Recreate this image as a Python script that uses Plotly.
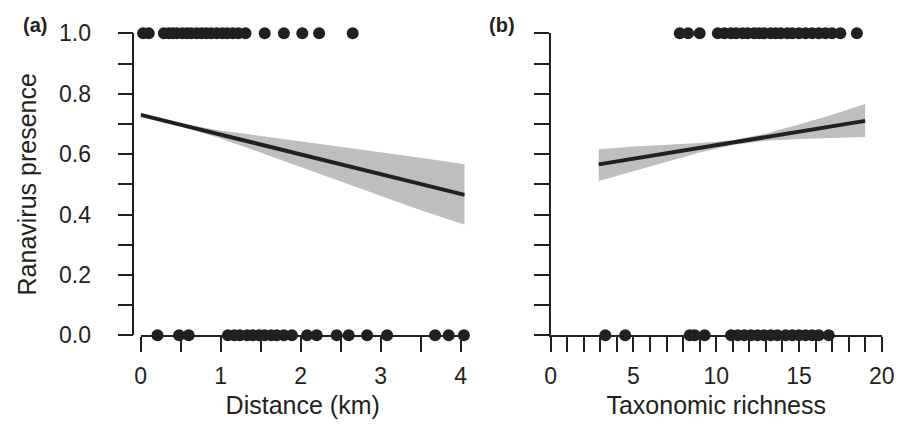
import plotly.graph_objects as go

# ---------------- data ----------------
# Panel (a): distance (km)
dist_present = [0.03, 0.10, 0.29, 0.35, 0.40, 0.45, 0.52, 0.58, 0.63, 0.70, 0.76,
                0.82, 0.88, 0.95, 1.02, 1.08, 1.15, 1.22, 1.31, 1.55, 1.79, 2.02,
                2.23, 2.65]
dist_absent = [0.21, 0.48, 0.60, 1.09, 1.17, 1.24, 1.33, 1.40, 1.48, 1.55, 1.63,
               1.70, 1.79, 1.89, 2.08, 2.20, 2.45, 2.60, 2.83, 3.08, 3.68, 3.85,
               4.04]
dist_fit_x = [0.0, 0.5, 1.0, 1.5, 2.0, 2.5, 3.0, 3.5, 4.05]
dist_fit = [0.730, 0.697, 0.665, 0.632, 0.599, 0.566, 0.534, 0.501, 0.465]
dist_lower = [0.726, 0.693, 0.652, 0.604, 0.556, 0.508, 0.461, 0.414, 0.366]
dist_upper = [0.734, 0.701, 0.678, 0.660, 0.642, 0.624, 0.607, 0.588, 0.566]

# Panel (b): taxonomic richness
rich_present = [7.8, 8.3, 9.0, 10.1, 10.5, 10.9, 11.2, 11.6, 11.9, 12.3, 12.6,
                12.9, 13.3, 13.6, 13.9, 14.3, 14.6, 15.0, 15.4, 15.8, 16.2, 16.6,
                17.0, 17.5, 18.5]
rich_absent = [3.3, 4.5, 8.4, 8.7, 9.3, 10.9, 11.3, 11.7, 12.1, 12.5, 12.9, 13.3,
               13.7, 14.2, 14.6, 15.0, 15.4, 15.8, 16.2, 16.8]
rich_fit_x = [2.9, 5.0, 7.0, 9.0, 11.0, 13.0, 15.0, 17.0, 19.0]
rich_fit = [0.566, 0.585, 0.603, 0.621, 0.638, 0.656, 0.674, 0.692, 0.710]
rich_lower = [0.511, 0.544, 0.575, 0.605, 0.630, 0.644, 0.650, 0.654, 0.657]
rich_upper = [0.616, 0.625, 0.631, 0.637, 0.646, 0.668, 0.698, 0.730, 0.766]

x_ticks_a = [0, 0.5, 1, 1.5, 2, 2.5, 3, 3.5, 4]
x_labels_a = ["0", "", "1", "", "2", "", "3", "", "4"]
x_ticks_b = list(range(0, 21))
x_labels_b = [str(v) if v % 5 == 0 else "" for v in x_ticks_b]
y_ticks = [0, 0.1, 0.2, 0.3, 0.4, 0.5, 0.6, 0.7, 0.8, 0.9, 1.0]
y_labels = ["0.0", "", "0.2", "", "0.4", "", "0.6", "", "0.8", "", "1.0"]

# ---------------- style ----------------
INK = "#231f20"
BAND = "#bcbec0"
FONT = "Liberation Sans, Arial, Helvetica, sans-serif"
PAGE_W, PAGE_H = 909, 433
OFF = 8  # default body margin of the html page
W, H = PAGE_W - 2 * OFF, PAGE_H - 2 * OFF


def px(x):
    return (x - OFF) / W


def py(y):
    return (PAGE_H - OFF - y) / H


fig = go.Figure()


def add_panel(xs_p, xs_a, fx, fy, lo, hi, xa, ya):
    fig.add_trace(go.Scatter(x=fx, y=lo, mode="lines", line=dict(width=0, color=BAND),
                             xaxis=xa, yaxis=ya, showlegend=False, hoverinfo="skip"))
    fig.add_trace(go.Scatter(x=fx, y=hi, mode="lines", line=dict(width=0, color=BAND),
                             fill="tonexty", fillcolor=BAND,
                             xaxis=xa, yaxis=ya, showlegend=False, hoverinfo="skip"))
    fig.add_trace(go.Scatter(x=fx, y=fy, mode="lines", line=dict(width=4, color=INK),
                             xaxis=xa, yaxis=ya, showlegend=False))
    fig.add_trace(go.Scatter(x=xs_p, y=[1.0] * len(xs_p), mode="markers",
                             marker=dict(size=12, color=INK, line=dict(width=0)),
                             cliponaxis=False, xaxis=xa, yaxis=ya, showlegend=False))
    fig.add_trace(go.Scatter(x=xs_a, y=[0.0] * len(xs_a), mode="markers",
                             marker=dict(size=12, color=INK, line=dict(width=0)),
                             cliponaxis=False, xaxis=xa, yaxis=ya, showlegend=False))


add_panel(dist_present, dist_absent, dist_fit_x, dist_fit, dist_lower, dist_upper, "x", "y")
add_panel(rich_present, rich_absent, rich_fit_x, rich_fit, rich_lower, rich_upper, "x2", "y2")

y_dom = [py(335.3), py(33.3)]
axis_common = dict(showgrid=False, zeroline=False, showline=True, linecolor=INK,
                   linewidth=1.5, ticks="outside", ticklen=15, tickwidth=1.5,
                   tickcolor=INK, layer="below traces", automargin=False,
                   tickfont=dict(family=FONT, size=23, color=INK))
title_font = dict(family=FONT, size=25, color=INK)

fig.update_layout(
    width=W, height=H,
    margin=dict(l=0, r=0, t=0, b=0, autoexpand=False),
    paper_bgcolor="white", plot_bgcolor="white",
    font=dict(family=FONT, color=INK),
    xaxis=dict(axis_common, domain=[px(140.7), px(140.7 + 4.05 * 80)], range=[0, 4.05],
               anchor="y", tickmode="array", tickvals=x_ticks_a, ticktext=x_labels_a,
               ticklabelstandoff=4,
               title=dict(text="Distance (km)", font=title_font, standoff=9)),
    yaxis=dict(axis_common, domain=y_dom, range=[0, 1], anchor="free", position=px(133.3),
               tickmode="array", tickvals=y_ticks, ticktext=y_labels,
               ticklabelstandoff=22,
               title=dict(text="Ranavirus presence", font=title_font, standoff=14)),
    xaxis2=dict(axis_common, domain=[px(550.7), px(881.7)], range=[0, 20], anchor="y2",
                tickmode="array", tickvals=x_ticks_b, ticktext=x_labels_b,
                ticklabelstandoff=4,
                title=dict(text="Taxonomic richness", font=title_font, standoff=9)),
    yaxis2=dict(axis_common, domain=y_dom, range=[0, 1], anchor="x2",
                tickmode="array", tickvals=y_ticks, showticklabels=False),
    annotations=[
        dict(text="<b>(a)</b>", x=px(35), y=py(25), xref="paper", yref="paper",
             xanchor="center", yanchor="middle", showarrow=False,
             font=dict(family=FONT, size=20, color=INK)),
        dict(text="<b>(b)</b>", x=px(502), y=py(25), xref="paper", yref="paper",
             xanchor="center", yanchor="middle", showarrow=False,
             font=dict(family=FONT, size=20, color=INK)),
    ],
)

fig.write_html("out.html")
